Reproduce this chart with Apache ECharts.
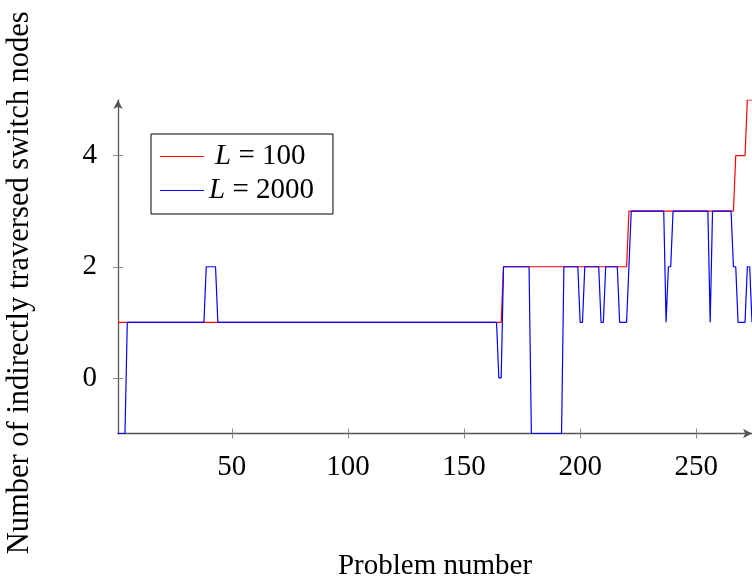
<!DOCTYPE html>
<html>
<head>
<meta charset="utf-8">
<script src="https://cdn.jsdelivr.net/npm/echarts@6/dist/echarts.min.js"></script>
<style>
  html, body { margin: 0; padding: 0; background: #fff; }
  #main { width: 752px; height: 577px; }
</style>
</head>
<body>
<div id="main"></div>
<script>
// corner points of each step line (problem number, traversed nodes)
var problemRed = [1, 166, 167, 220, 221, 266, 267, 271, 272, 274];
var valueRed   = [1, 1,   2,   2,   3,   3,   4,   4,   5,   5];

var problemBlue = [1, 4, 5, 38, 39, 43, 44, 164, 165, 166, 167, 178, 179, 192, 193, 199, 200, 201,
  202, 208, 209, 210, 211, 216, 217, 220, 221, 222, 236, 237, 238, 239, 240, 255, 256, 257,
  265, 266, 267, 268, 271, 272, 273, 274];
var valueBlue = [-1, -1, 1, 1, 2, 2, 1, 1, 0, 0, 2, 2, -1, -1, 2, 2, 1, 1,
  2, 2, 1, 1, 2, 2, 1, 1, 2, 3, 3, 1, 2, 2, 3, 3, 1, 3,
  3, 2, 2, 1, 1, 2, 2, 1];

var xTicks = [50, 100, 150, 200, 250];
var yTicks = [0, 2, 4];
var seriesNames = ['L = 100', 'L = 2000'];

function pairs(xs, ys) {
  return xs.map(function (x, i) { return [x, ys[i]]; });
}

var font = "'Liberation Serif', 'Times New Roman', serif";
var axisColor = '#555';
var tickColor = '#888';

var myChart = echarts.init(document.getElementById('main'));

var option = {
  animation: false,
  textStyle: { fontFamily: font, color: '#000' },
  grid: { left: 118, right: 0, top: 100, bottom: 143.5, containLabel: false, outerBoundsMode: 'none' },
  legend: {
    left: 151,
    top: 134,
    orient: 'vertical',
    padding: [8, 19, 9, 9],
    itemGap: 5,
    itemWidth: 44,
    itemHeight: 14,
    borderColor: '#000',
    borderWidth: 1,
    icon: 'path://M0,7L44,7L44,8L0,8Z',
    formatter: function (name) {
      // first entry is centred under the wider second one
      var pad = name === seriesNames[0] ? '{p|}' : '';
      return pad + '{i|L}' + name.slice(1);
    },
    textStyle: {
      fontFamily: font,
      fontSize: 29,
      color: '#000',
      rich: {
        i: { fontStyle: 'italic', fontFamily: font, fontSize: 29 },
        p: { width: 6 }
      }
    },
    data: seriesNames
  },
  xAxis: [
    {
      type: 'value',
      min: 1,
      max: 274,
      name: 'Problem number',
      nameLocation: 'middle',
      nameGap: 118,
      nameTextStyle: { fontFamily: font, fontSize: 29, color: '#000' },
      splitLine: { show: false },
      axisLine: {
        onZero: false,
        symbol: ['none', 'arrow'],
        symbolSize: [7, 9],
        lineStyle: { color: axisColor, width: 1.3 }
      },
      axisTick: { customValues: xTicks, length: 5, lineStyle: { color: tickColor } },
      axisLabel: { customValues: xTicks, fontFamily: font, fontSize: 29, color: '#000', margin: 19 }
    },
    {
      type: 'value',
      min: 1,
      max: 274,
      position: 'bottom',
      splitLine: { show: false },
      axisLine: { show: false, onZero: false },
      axisTick: { customValues: xTicks, inside: true, length: 5, lineStyle: { color: tickColor } },
      axisLabel: { show: false }
    }
  ],
  yAxis: [
    {
      type: 'value',
      min: -1,
      max: 5,
      name: 'Number of indirectly traversed switch nodes',
      nameLocation: 'middle',
      nameGap: 83,
      nameTextStyle: { fontFamily: font, fontSize: 30.5, color: '#000', padding: [0, 32, 0, 0] },
      splitLine: { show: false },
      axisLine: {
        onZero: false,
        symbol: ['none', 'arrow'],
        symbolSize: [7, 9],
        lineStyle: { color: axisColor, width: 1.3 }
      },
      axisTick: { customValues: yTicks, length: 5, lineStyle: { color: tickColor } },
      axisLabel: { customValues: yTicks, fontFamily: font, fontSize: 29, color: '#000', margin: 21 }
    },
    {
      type: 'value',
      min: -1,
      max: 5,
      position: 'left',
      splitLine: { show: false },
      axisLine: { show: false, onZero: false },
      axisTick: { customValues: yTicks, inside: true, length: 5, lineStyle: { color: tickColor } },
      axisLabel: { show: false }
    }
  ],
  series: [
    {
      name: seriesNames[0],
      type: 'line',
      showSymbol: false,
      color: '#ff0000',
      lineStyle: { width: 1.2, color: '#ff0000' },
      data: pairs(problemRed, valueRed)
    },
    {
      name: seriesNames[1],
      type: 'line',
      showSymbol: false,
      color: '#0000ff',
      lineStyle: { width: 1.2, color: '#0000ff' },
      data: pairs(problemBlue, valueBlue)
    }
  ]
};

myChart.setOption(option);
</script>
</body>
</html>
